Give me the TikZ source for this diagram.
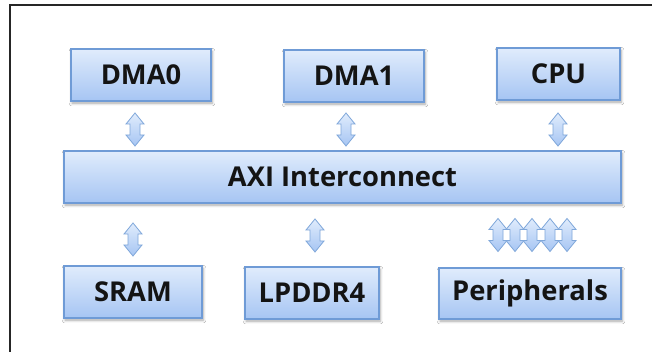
\documentclass[tikz,border=0pt]{standalone}
\usepackage{fontspec}
\setmainfont{Open Sans}
\usetikzlibrary{shadows.blur}

\definecolor{boxtop}{HTML}{E0ECFC}
\definecolor{boxbot}{HTML}{A6C5F3}
\definecolor{boxedge}{HTML}{6F9BD6}
\definecolor{arredge}{HTML}{7FA7DA}

\tikzset{
  unit/.style={x=0.75pt,y=-0.75pt},
  blockbox/.style={
    draw=boxedge, line width=0.8pt,
    top color=boxtop, bottom color=boxbot,
    blur shadow={shadow xshift=0.8pt, shadow yshift=-1.6pt,
                 shadow blur steps=6, shadow opacity=35},
    font=\fontsize{20.5}{22}\selectfont\bfseries, text=black!92,
    inner sep=0pt, anchor=center},
  pics/bidir/.style={
    code={
      \shadedraw[draw=arredge, line width=0.6pt, top color=boxtop, bottom color=boxbot, line join=miter]
        (0,-16.5) -- (9,-5.5) -- (5,-5.5) -- (5,5.5) -- (9,5.5) -- (0,16.5)
        -- (-9,5.5) -- (-5,5.5) -- (-5,-5.5) -- (-9,-5.5) -- cycle;
    }}
}

\begin{document}
\begin{tikzpicture}[unit]
  \useasboundingbox (0,0) rectangle (652,352);
  \clip (0,0) rectangle (652,352);
  \fill[white] (0,0) rectangle (652,352);

  % outer frame (left and top edges)
  \draw[line width=1.6pt, black!85] (10,360) -- (10,5) -- (660,5);

  % masters
  \node[blockbox, minimum width={140*0.75pt}, minimum height={52*0.75pt}] (dma0) at (141,75) {DMA0};
  \node[blockbox, minimum width={140*0.75pt}, minimum height={52*0.75pt}] (dma1) at (354,76) {DMA1};
  \node[blockbox, minimum width={123*0.75pt}, minimum height={52*0.75pt}] (cpu) at (558.5,74) {CPU};

  % interconnect
  \node[blockbox, minimum width={557*0.75pt}, minimum height={52*0.75pt}] (axi) at (342.5,177) {AXI Interconnect};

  % slaves
  \node[blockbox, minimum width={138*0.75pt}, minimum height={52*0.75pt}] (sram) at (133,292) {SRAM};
  \node[blockbox, minimum width={134*0.75pt}, minimum height={52*0.75pt}] (lpddr) at (312,293) {LPDDR4};
  \node[blockbox, minimum width={182*0.75pt}, minimum height={51*0.75pt}] (periph) at (530,293.5) {Peripherals};

  % bidirectional links
  \pic (a0) at (135,129.5) {bidir};
  \pic (a1) at (346,129.5) {bidir};
  \pic (a2) at (558,129.5) {bidir};
  \pic (b0) at (133,239.5) {bidir};
  \pic (b1) at (315,235.5) {bidir};
  \foreach \px/\nm in {498/p0,515/p1,532/p2,550/p3,567/p4}
    \pic (\nm) at (\px,235) {bidir};
\end{tikzpicture}
\end{document}
